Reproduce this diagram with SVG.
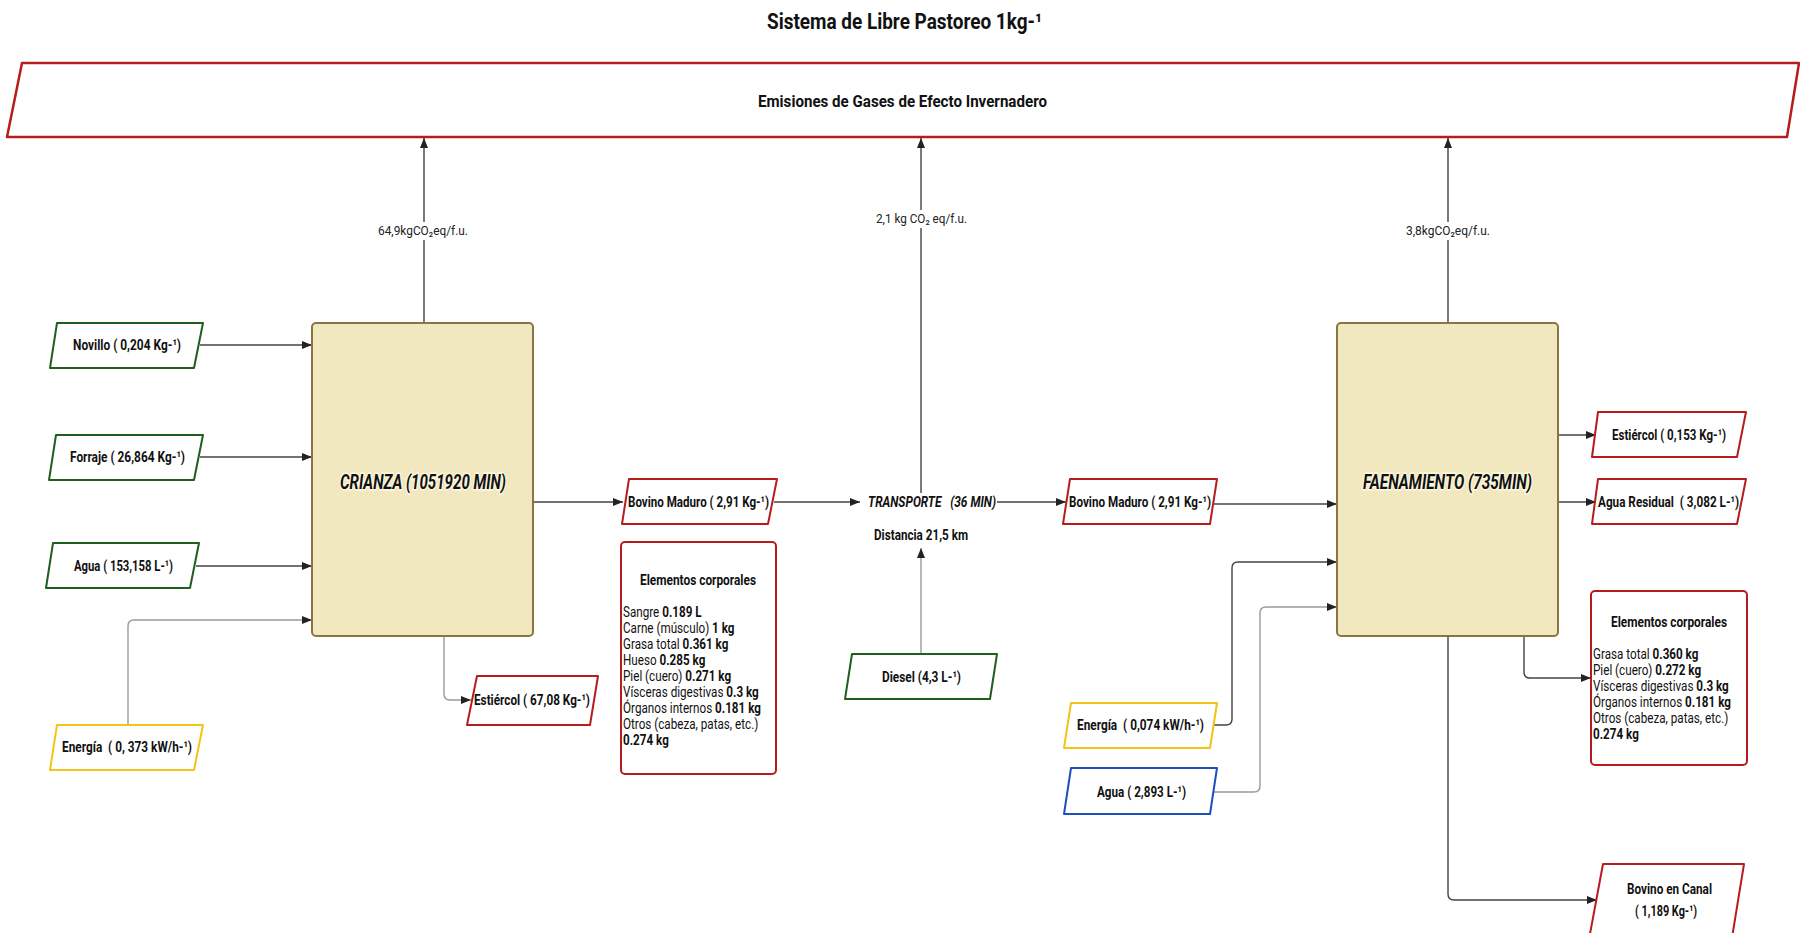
<svg xmlns="http://www.w3.org/2000/svg" width="1800" height="933" viewBox="0 0 1800 933">
<style>
text{font-family:Roboto,"Liberation Sans",sans-serif;fill:#111;white-space:pre}
.t{font-size:15px;font-weight:700}
.b{font-size:14px;font-weight:400}
.b tspan.k{font-weight:700}
.em{font-size:13px;font-weight:400;fill:#222}
.proc{fill:#F2E8C0;stroke:#8C7340;stroke-width:2}
.pt{font-size:21px;font-weight:700;font-style:italic;stroke:#fffbe6;stroke-width:3;stroke-opacity:0.85;paint-order:stroke}
.red{fill:#fff;stroke:#B71C1C;stroke-width:2;stroke-linejoin:round}
.grn{fill:#fff;stroke:#1E5E1E;stroke-width:2;stroke-linejoin:round}
.yel{fill:#fff;stroke:#F2C318;stroke-width:2;stroke-linejoin:round}
.blu{fill:#fff;stroke:#1E4FC0;stroke-width:2;stroke-linejoin:round}
.c{fill:none;stroke:#444;stroke-width:1.4;marker-end:url(#ah)}
.cl{fill:none;stroke:#9a9a9a;stroke-width:1.4;marker-end:url(#ah)}
</style>
<defs>
<marker id="ah" markerWidth="10" markerHeight="8" refX="10" refY="4" orient="auto" markerUnits="userSpaceOnUse">
<path d="M0,0 L10,4 L0,8 z" fill="#222"/>
</marker>
</defs>
<rect width="1800" height="933" fill="#fff"/>
<text x="767" y="29" style="font-size:22px;font-weight:700" textLength="275" lengthAdjust="spacingAndGlyphs">Sistema de Libre Pastoreo 1kg-¹</text>

<g id="connectors">
<path class="c" d="M200,345 H312"/>
<path class="c" d="M200,457 H312"/>
<path class="c" d="M196,566 H312"/>
<path class="cl" d="M128,725 V626 Q128,620 134,620 H312"/>
<path class="c" d="M533,502 H623"/>
<path class="cl" d="M444,636 V694 Q444,700 450,700 H471"/>
<path class="c" d="M424,323 V138"/>
<path class="c" d="M774,502 H860"/>
<path class="c" d="M997,502 H1066"/>
<path class="c" d="M921,493 V138"/>
<path class="cl" d="M921,654 V548"/>
<path class="c" d="M1213,504 H1337"/>
<path class="c" d="M1214,725 H1226 Q1232,725 1232,719 V568 Q1232,562 1238,562 H1337"/>
<path class="cl" d="M1213,792 H1254 Q1260,792 1260,786 V613 Q1260,607 1266,607 H1337"/>
<path class="c" d="M1448,323 V138"/>
<path class="c" d="M1558,435 H1596"/>
<path class="c" d="M1558,502 H1596"/>
<path class="c" d="M1524,636 V672 Q1524,678 1530,678 H1591"/>
<path class="c" d="M1448,636 V894 Q1448,900 1454,900 H1597"/>
<rect x="376" y="222" width="96" height="18" fill="#fff"/>
<text class="em" x="378" y="235" textLength="90" lengthAdjust="spacingAndGlyphs">64,9kgCO₂eq/f.u.</text>
<rect x="874" y="210" width="95" height="18" fill="#fff"/>
<text class="em" x="876" y="223" textLength="91" lengthAdjust="spacingAndGlyphs">2,1 kg CO₂ eq/f.u.</text>
<rect x="1404" y="222" width="88" height="18" fill="#fff"/>
<text class="em" x="1406" y="235" textLength="84" lengthAdjust="spacingAndGlyphs">3,8kgCO₂eq/f.u.</text>
</g>

<g id="emisiones">
<path d="M22,63 H1799 L1787,137 H7 Z" fill="#fff" stroke="#B71C1C" stroke-width="2.5" stroke-linejoin="round"/>
<text x="758" y="107" style="font-size:17px;font-weight:700" textLength="289" lengthAdjust="spacingAndGlyphs">Emisiones de Gases de Efecto Invernadero</text>
</g>

<g id="novillo">
<path class="grn" d="M57,323 H203 L194,368 H50 Z"/>
<text class="t" x="73" y="350" textLength="108" lengthAdjust="spacingAndGlyphs">Novillo ( 0,204 Kg-¹)</text>
</g>
<g id="forraje">
<path class="grn" d="M56,435 H203 L194,480 H49 Z"/>
<text class="t" x="70" y="462" textLength="115" lengthAdjust="spacingAndGlyphs">Forraje ( 26,864 Kg-¹)</text>
</g>
<g id="agua1">
<path class="grn" d="M53,543 H199 L190,588 H46 Z"/>
<text class="t" x="74" y="571" textLength="99" lengthAdjust="spacingAndGlyphs">Agua ( 153,158 L-¹)</text>
</g>
<g id="energia1">
<path class="yel" d="M57,725 H203 L194,770 H50 Z"/>
<text class="t" x="62" y="752" textLength="130" lengthAdjust="spacingAndGlyphs">Energía  ( 0, 373 kW/h-¹)</text>
</g>
<g id="crianza">
<rect class="proc" x="312" y="323" width="221" height="313" rx="4"/>
<text class="pt" x="340" y="489" textLength="166" lengthAdjust="spacingAndGlyphs">CRIANZA (1051920 MIN)</text>
</g>
<g id="estiercol1">
<path class="red" d="M477,676 H598 L590,725 H467 Z"/>
<text class="t" x="474" y="705" textLength="116" lengthAdjust="spacingAndGlyphs">Estiércol ( 67,08 Kg-¹)</text>
</g>
<g id="bovino1">
<path class="red" d="M629,479 H777 L768,524 H622 Z"/>
<text class="t" x="628" y="507" textLength="141" lengthAdjust="spacingAndGlyphs">Bovino Maduro ( 2,91 Kg-¹)</text>
</g>
<g id="elementos1">
<rect class="red" x="621" y="542" width="155" height="232" rx="4"/>
<text class="t" x="640" y="585" textLength="116" lengthAdjust="spacingAndGlyphs">Elementos corporales</text>
<text class="b" transform="translate(623,0) scale(0.835,1)"><tspan x="0" y="617">Sangre <tspan class="k">0.189 L</tspan></tspan><tspan x="0" y="633">Carne (músculo) <tspan class="k">1 kg</tspan></tspan><tspan x="0" y="649">Grasa total <tspan class="k">0.361 kg</tspan></tspan><tspan x="0" y="665">Hueso <tspan class="k">0.285 kg</tspan></tspan><tspan x="0" y="681">Piel (cuero) <tspan class="k">0.271 kg</tspan></tspan><tspan x="0" y="697">Vísceras digestivas <tspan class="k">0.3 kg</tspan></tspan><tspan x="0" y="713">Órganos internos <tspan class="k">0.181 kg</tspan></tspan><tspan x="0" y="729">Otros (cabeza, patas, etc.)</tspan><tspan x="0" y="745" class="k">0.274 kg</tspan></text>
</g>
<g id="transporte">
<text x="868" y="507" style="font-size:15px;font-weight:700;font-style:italic" textLength="128" lengthAdjust="spacingAndGlyphs">TRANSPORTE   (36 MIN)</text>
<text class="t" x="874" y="540" textLength="94" lengthAdjust="spacingAndGlyphs">Distancia 21,5 km</text>
</g>
<g id="diesel">
<path class="grn" d="M852,654 H997 L990,699 H845 Z"/>
<text class="t" x="882" y="682" textLength="79" lengthAdjust="spacingAndGlyphs">Diesel (4,3 L-¹)</text>
</g>
<g id="bovino2">
<path class="red" d="M1070,479 H1217 L1210,524 H1063 Z"/>
<text class="t" x="1069" y="507" textLength="142" lengthAdjust="spacingAndGlyphs">Bovino Maduro ( 2,91 Kg-¹)</text>
</g>
<g id="energia2">
<path class="yel" d="M1071,703 H1217 L1210,748 H1064 Z"/>
<text class="t" x="1077" y="730" textLength="127" lengthAdjust="spacingAndGlyphs">Energía  ( 0,074 kW/h-¹)</text>
</g>
<g id="agua2">
<path class="blu" d="M1071,768 H1217 L1210,814 H1064 Z"/>
<text class="t" x="1097" y="797" textLength="89" lengthAdjust="spacingAndGlyphs">Agua ( 2,893 L-¹)</text>
</g>
<g id="faenamiento">
<rect class="proc" x="1337" y="323" width="221" height="313" rx="4"/>
<text class="pt" x="1363" y="489" textLength="169" lengthAdjust="spacingAndGlyphs">FAENAMIENTO (735MIN)</text>
</g>
<g id="estiercol2">
<path class="red" d="M1598,412 H1746 L1737,457 H1592 Z"/>
<text class="t" x="1612" y="440" textLength="114" lengthAdjust="spacingAndGlyphs">Estiércol ( 0,153 Kg-¹)</text>
</g>
<g id="aguaresidual">
<path class="red" d="M1598,479 H1746 L1737,524 H1592 Z"/>
<text class="t" x="1598" y="507" textLength="141" lengthAdjust="spacingAndGlyphs">Agua Residual  ( 3,082 L-¹)</text>
</g>
<g id="elementos2">
<rect class="red" x="1591" y="591" width="156" height="174" rx="4"/>
<text class="t" x="1611" y="627" textLength="116" lengthAdjust="spacingAndGlyphs">Elementos corporales</text>
<text class="b" transform="translate(1593,0) scale(0.835,1)"><tspan x="0" y="659">Grasa total <tspan class="k">0.360 kg</tspan></tspan><tspan x="0" y="675">Piel (cuero) <tspan class="k">0.272 kg</tspan></tspan><tspan x="0" y="691">Vísceras digestivas <tspan class="k">0.3 kg</tspan></tspan><tspan x="0" y="707">Órganos internos <tspan class="k">0.181 kg</tspan></tspan><tspan x="0" y="723">Otros (cabeza, patas, etc.)</tspan><tspan x="0" y="739" class="k">0.274 kg</tspan></text>
</g>
<g id="bovinocanal">
<path class="red" d="M1603,864 H1744 L1730,950 H1587 Z"/>
<text class="t" x="1627" y="894" textLength="85" lengthAdjust="spacingAndGlyphs">Bovino en Canal</text>
<text class="t" x="1635" y="916" textLength="62" lengthAdjust="spacingAndGlyphs">( 1,189 Kg-¹)</text>
</g>
</svg>
